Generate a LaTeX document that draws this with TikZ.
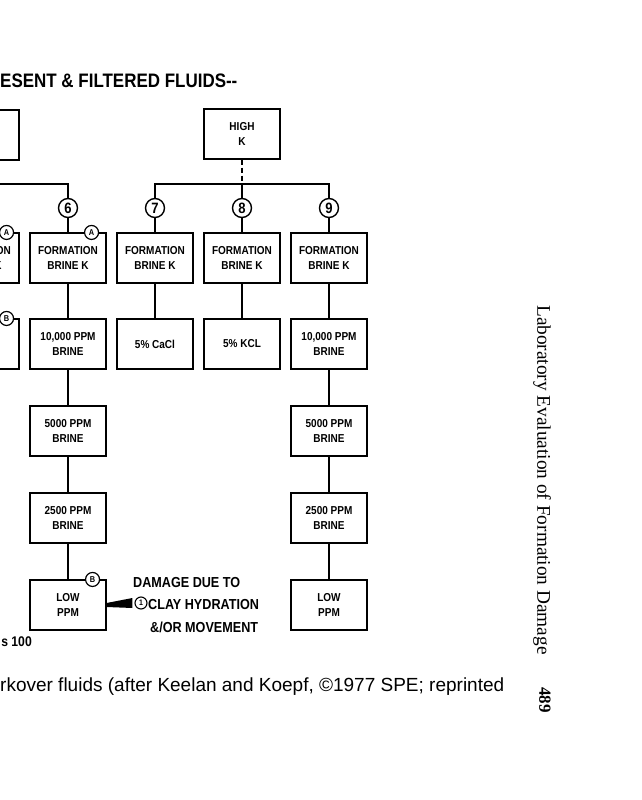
\documentclass[tikz,border=0pt]{standalone}
\usepackage{fontspec}
\newfontfamily\draftfont[FakeStretch=0.87]{Liberation Sans}
\newfontfamily\capfont{Liberation Sans}
\newfontfamily\bookfont{Liberation Serif}
\usetikzlibrary{positioning,calc}

\begin{document}
\begin{tikzpicture}[x=1pt,y=-1pt]
  \tikzset{
    fluid/.style={draw,line width=1.1pt,minimum width=76pt,minimum height=50pt,inner sep=0pt,align=center,
      font=\draftfont\bfseries\fontsize{11.5}{15.5}\selectfont},
    num/.style={draw,circle,line width=1.4pt,minimum size=19pt,inner sep=0pt,fill=white,
      font=\draftfont\bfseries\fontsize{15}{15}\selectfont},
    tag/.style={draw,circle,line width=1.2pt,minimum size=14pt,inner sep=0pt,fill=white,
      font=\draftfont\bfseries\fontsize{8.5}{8.5}\selectfont},
    note/.style={inner sep=0pt,anchor=base west,font=\draftfont\bfseries\fontsize{14.5}{14.5}\selectfont},
    link/.style={line width=1.1pt}
  }
  \useasboundingbox (0,0) rectangle (641,800);
  \node[note,font=\draftfont\bfseries\fontsize{19.5}{19.5}\selectfont] (title) at (0,87) {ESENT \& FILTERED FLUIDS-{}-};

  \node[fluid] (lo) at (-19,135) {};
  \node[fluid] (hi) at (242,134) {HIGH\\K};

  \foreach \i/\x in {6/68,7/155,8/242,9/329}
    \node[num] (c\i) at (\x,208) {\i};

  \node[fluid] (f5) at (-19,258) {FORMATION\\BRINE K};
  \foreach \i/\x in {6/68,7/155,8/242,9/329}
    \node[fluid] (f\i) at (\x,258) {FORMATION\\BRINE K};

  \node[fluid] (b5) at (-19,344) {};
  \node[fluid] (b6) at (68,344) {10,000 PPM\\BRINE};
  \node[fluid] (b7) at (155,344) {5\% CaCl};
  \node[fluid] (b8) at (242,344) {5\% KCL};
  \node[fluid] (b9) at (329,344) {10,000 PPM\\BRINE};

  \foreach \i/\x in {6/68,9/329}{
    \node[fluid] (m\i) at (\x,431) {5000 PPM\\BRINE};
    \node[fluid] (s\i) at (\x,518) {2500 PPM\\BRINE};
    \node[fluid] (l\i) at (\x,605) {LOW\\PPM};
  }

  \node[tag] (tagA5) at ($(f5.north east)+(-13,0)$) {A};
  \node[tag] (tagA6) at ($(f6.north east)+(-15,0)$) {A};
  \node[tag] (tagB5) at ($(b5.north east)+(-13,0)$) {B};
  \node[tag] (tagB6) at ($(l6.north east)+(-14,0)$) {B};

  \coordinate (busL) at (-40,184);
  \coordinate (bus) at (242,184);
  \draw[link] (busL) -| (c6);
  \draw[link,dash pattern=on 5pt off 3pt] (hi) -- (bus);
  \draw[link] (c7) |- (bus) -| (c9);
  \draw[link] (c8) -- (bus);
  \foreach \i in {6,7,8,9}
    \draw[link] (c\i) -- (f\i);
  \draw[link] (f6) -- (b6) -- (m6) -- (s6) -- (l6);
  \draw[link] (f7) -- (b7);
  \draw[link] (f8) -- (b8);
  \draw[link] (f9) -- (b9) -- (m9) -- (s9) -- (l9);

  \node[note] (dmg) at (133,587) {DAMAGE DUE TO};
  \node[circle,draw,line width=1.1pt,minimum size=12pt,inner sep=0pt,
    font=\draftfont\bfseries\fontsize{8}{8}\selectfont] (n1) at (141,603) {1};
  \node[note] (hyd) at (148,609) {CLAY HYDRATION};
  \node[note] (mov) at (150,632) {\&/OR MOVEMENT};
  \fill ($(l6.east)+(0,2)$) -- ($(l6.east)+(0,-2)$) -- ($(n1.west)+(-2,-5)$) -- ($(n1.west)+(-2,5)$) -- cycle;

  \node[note,font=\draftfont\bfseries\fontsize{14}{14}\selectfont,anchor=base east] (scale) at (32,646) {s 100};

  \node[anchor=base west,inner sep=0pt,font=\capfont\fontsize{19}{19}\selectfont] (cap) at (0,691)
    {rkover fluids (after Keelan and Koepf, ©1977 SPE; reprinted};
  \node[rotate=-90,inner sep=0pt,font=\bookfont\fontsize{19.3}{19.3}\selectfont] (book) at (542,480)
    {Laboratory Evaluation of Formation Damage};
  \node[rotate=-90,inner sep=0pt,font=\bookfont\bfseries\fontsize{17}{17}\selectfont] (page) at (545,700) {489};
\end{tikzpicture}
\end{document}
